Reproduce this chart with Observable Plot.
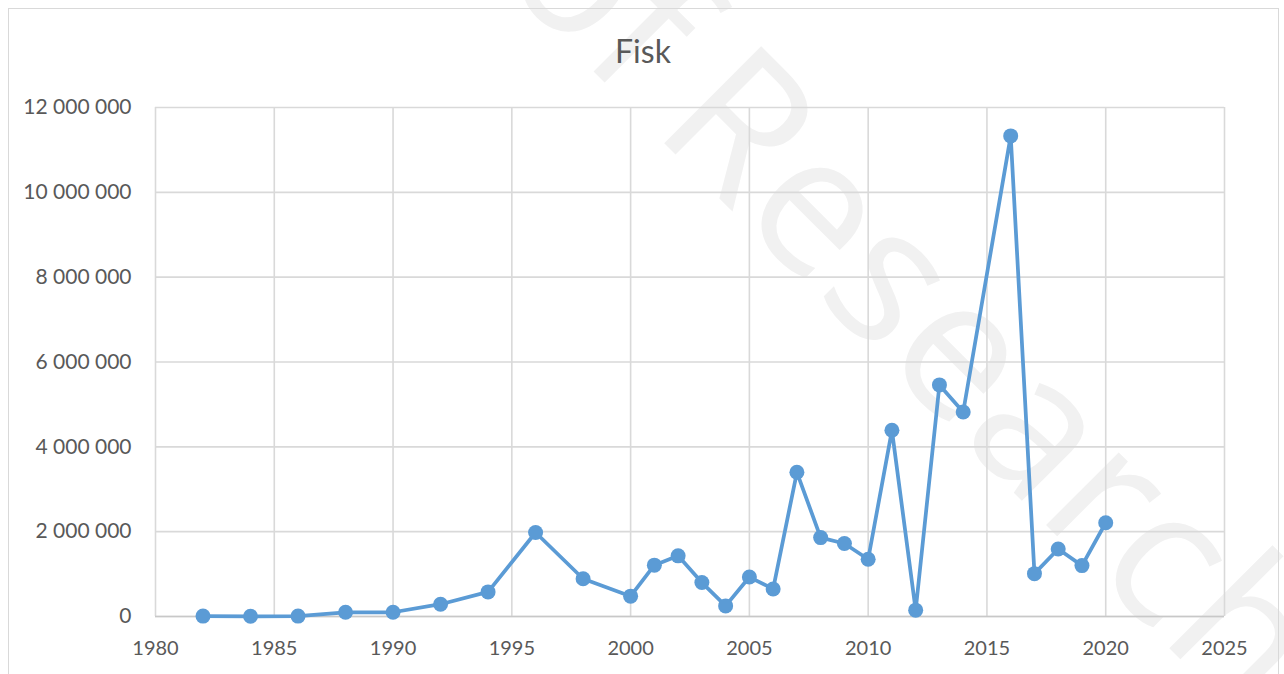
<!DOCTYPE html>
<html>
<head>
<meta charset="utf-8">
<script src="https://cdn.jsdelivr.net/npm/d3@7"></script>
<script src="https://cdn.jsdelivr.net/npm/@observablehq/plot@0.6"></script>
<style>
  html, body { margin: 0; padding: 0; background: #fff; }
  #wrap { position: relative; width: 1284px; height: 674px; overflow: hidden; font-family: Lato, "Open Sans", sans-serif; }
  #frame { position: absolute; left: 8px; top: 8px; width: 1271px; height: 700px; border: 1px solid #d9d9d9; box-sizing: border-box; }
  #title { position: absolute; left: 0; width: 1286px; top: 31px; text-align: center; font-size: 32px; line-height: 40px; color: #595959; }
  #wm { position: absolute; left: 0; top: 0; }
  #chart { position: absolute; left: 0; top: 0; }
  #chart svg { background: transparent !important; }
</style>
</head>
<body>
<div id="wrap">
  <svg id="wm" width="1284" height="674">
    <g font-family="'Open Sans', sans-serif" font-size="192" fill="#f1f1f1">
      <text transform="translate(497,-25) rotate(45)">of</text>
      <text transform="translate(651,130) rotate(45)" letter-spacing="2">Research</text>
    </g>
  </svg>
  <div id="frame"></div>
  <div id="title">Fisk</div>
  <div id="chart"></div>
</div>
<script>
const years = [1982,1984,1986,1988,1990,1992,1994,1996,1998,2000,2001,2002,2003,2004,2005,2006,2007,2008,2009,2010,2011,2012,2013,2014,2016,2017,2018,2019,2020];
const values = [10000,5000,10000,100000,100000,290000,580000,1980000,890000,480000,1210000,1430000,800000,250000,930000,650000,3400000,1860000,1720000,1350000,4390000,150000,5460000,4820000,11330000,1010000,1590000,1200000,2210000];
const xTicks = [1980,1985,1990,1995,2000,2005,2010,2015,2020,2025];
const yTicks = [0,2000000,4000000,6000000,8000000,10000000,12000000];

const data = years.map((y, i) => ({year: y, value: values[i]}));
const fmt = v => d3.format(",")(v).replace(/,/g, " ");
const blue = "#5b9bd5";

const chart = Plot.plot({
  width: 1284,
  height: 674,
  marginTop: 107,
  marginBottom: 58,
  marginLeft: 155,
  marginRight: 60,
  style: {background: "transparent", fontFamily: "Lato, 'Open Sans', sans-serif", fontSize: "20px", color: "#595959"},
  x: {domain: [1980, 2025], label: null},
  y: {domain: [0, 12000000], label: null},
  marks: [
    Plot.gridX(xTicks, {stroke: "#d9d9d9", strokeOpacity: 1, strokeWidth: 1.6}),
    Plot.gridY(yTicks, {stroke: "#d9d9d9", strokeOpacity: 1, strokeWidth: 1.6}),
    Plot.ruleY([0], {stroke: "#c8c8c8", strokeWidth: 1.6}),
    Plot.axisX({ticks: xTicks, tickFormat: d => String(d), tickSize: 0, tickPadding: 24, fill: "#595959", fontSize: 20}),
    Plot.axisY({ticks: yTicks, tickFormat: fmt, tickSize: 0, tickPadding: 24, fill: "#595959", fontSize: 21}),
    Plot.line(data, {x: "year", y: "value", stroke: blue, strokeWidth: 3.75}),
    Plot.dot(data, {x: "year", y: "value", fill: blue, r: 7.5})
  ]
});
document.getElementById("chart").appendChild(chart);
</script>
</body>
</html>
